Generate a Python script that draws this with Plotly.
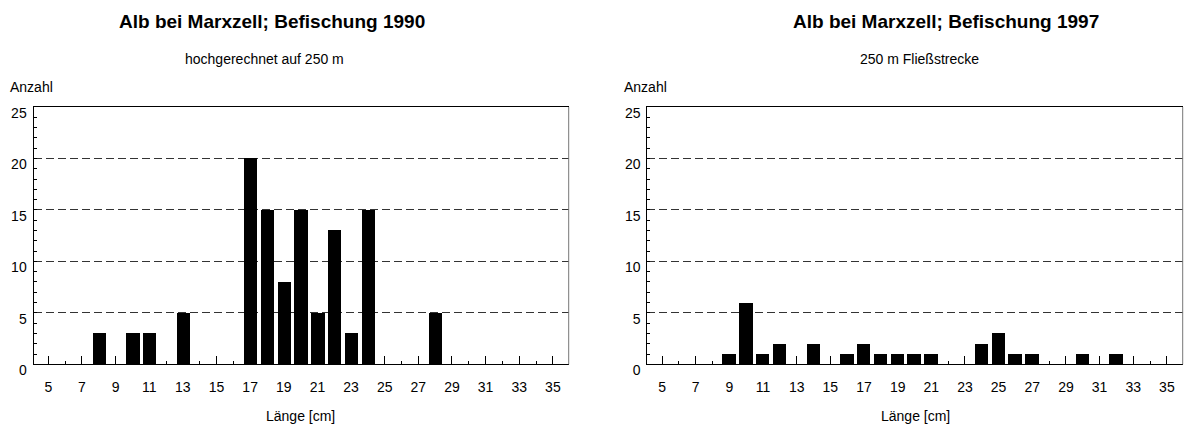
import plotly.graph_objects as go

# Length classes (cm) and catch counts for the two surveys
lengths_1990 = [8, 10, 11, 13, 17, 18, 19, 20, 21, 22, 23, 24, 28]
counts_1990 = [3, 3, 3, 5, 20, 15, 8, 15, 5, 13, 3, 15, 5]

lengths_1997 = [9, 10, 11, 12, 14, 16, 17, 18, 19, 20, 21, 24, 25, 26, 27, 30, 32]
counts_1997 = [1, 6, 1, 2, 2, 1, 2, 1, 1, 1, 1, 2, 3, 1, 1, 1, 1]

titles = ["Alb bei Marxzell; Befischung 1990", "Alb bei Marxzell; Befischung 1997"]
subtitles = ["hochgerechnet auf 250 m", "250 m Fließstrecke"]
x_ticks = list(range(5, 36, 2))
y_ticks = [0, 5, 10, 15, 20, 25]

W, H = 1187, 439
FONT = "Liberation Sans, Arial, Helvetica, sans-serif"


def px(x):
    return x / W


def py(y):
    return 1 - y / H


x_domains = [[px(33.5), px(568.7)], [px(647.3), px(1182.7)]]
y_domain = [py(376), py(109)]

fig = go.Figure()
fig.add_trace(go.Bar(x=lengths_1990, y=counts_1990, width=0.8,
                     marker=dict(color="black", line=dict(width=0)),
                     xaxis="x", yaxis="y", showlegend=False))
fig.add_trace(go.Bar(x=lengths_1997, y=counts_1997, width=0.8,
                     marker=dict(color="black", line=dict(width=0)),
                     xaxis="x2", yaxis="y2", showlegend=False))

xaxis_common = dict(
    range=[4.12, 35.94], tickmode="array", tickvals=x_ticks,
    ticks="inside", ticklen=8, tickwidth=1, tickcolor="black",
    minor=dict(dtick=1, tick0=0, ticks="inside", ticklen=3, tickcolor="black", showgrid=False),
    showline=True, linecolor="black", linewidth=1, mirror=True,
    showgrid=False, zeroline=False,
    tickfont=dict(family=FONT, size=14, color="black"),
    ticklabelstandoff=10, fixedrange=True,
)
yaxis_common = dict(
    range=[0, 25], tickmode="array", tickvals=y_ticks,
    ticks="inside", ticklen=3, tickwidth=1, tickcolor="black",
    minor=dict(dtick=1, tick0=0, ticks="inside", ticklen=3, tickcolor="black", showgrid=False),
    showline=True, linecolor="black", linewidth=1, mirror=False,
    showgrid=True, gridcolor="#333", griddash="8px,4px", gridwidth=1,
    zeroline=False, domain=y_domain,
    tickfont=dict(family=FONT, size=14, color="black"),
    ticklabelstandoff=3, ticklabelshift=6, fixedrange=True,
)

fig.update_layout(
    width=W, height=H,
    margin=dict(l=0, r=0, t=0, b=0),
    paper_bgcolor="white", plot_bgcolor="white",
    bargap=0,
    xaxis=dict(xaxis_common, domain=x_domains[0], anchor="y"),
    yaxis=dict(yaxis_common, anchor="x"),
    xaxis2=dict(xaxis_common, domain=x_domains[1], anchor="y2"),
    yaxis2=dict(yaxis_common, anchor="x2"),
)

# Grey right-hand frame edge of each panel
for xr, yr in (("x domain", "y domain"), ("x2 domain", "y2 domain")):
    fig.add_shape(type="line", xref=xr, yref=yr, x0=1, x1=1, y0=0, y1=1,
                  line=dict(color="#777", width=1), layer="above")

title_x = [272, 946]
sub_x = [264, 919]
anz_x = [8, 622]
laenge_x = [301, 915]
for i in range(2):
    fig.add_annotation(text="<b>%s</b>" % titles[i], x=px(title_x[i]), y=py(20),
                       xref="paper", yref="paper", showarrow=False,
                       xanchor="center", yanchor="middle",
                       font=dict(family=FONT, size=19, color="black"))
    fig.add_annotation(text=subtitles[i], x=px(sub_x[i]), y=py(59),
                       xref="paper", yref="paper", showarrow=False,
                       xanchor="center", yanchor="middle",
                       font=dict(family=FONT, size=14, color="black"))
    fig.add_annotation(text="Anzahl", x=px(anz_x[i]), y=py(88),
                       xref="paper", yref="paper", showarrow=False,
                       xanchor="left", yanchor="middle",
                       font=dict(family=FONT, size=14, color="black"))
    fig.add_annotation(text="Länge [cm]", x=px(laenge_x[i]), y=py(430),
                       xref="paper", yref="paper", showarrow=False,
                       xanchor="center", yanchor="middle",
                       font=dict(family=FONT, size=14, color="black"))

fig.write_html("out.html")
